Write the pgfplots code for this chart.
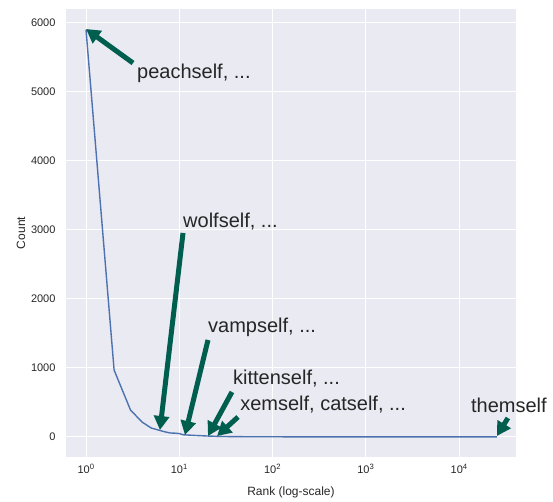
\documentclass[border=0pt]{standalone}
\usepackage{pgfplots}
\pgfplotsset{compat=1.18}
\usepackage{fontspec}
\setmainfont{Liberation Sans}
\usetikzlibrary{arrows.meta}
\definecolor{bgc}{RGB}{234,234,242}
\definecolor{tickc}{RGB}{38,38,38}
\definecolor{linec}{RGB}{76,114,176}
\definecolor{arrc}{RGB}{0,94,78}
\tikzset{
  arr/.style={draw=arrc, line width=5bp, -{Triangle[length=14bp,width=15bp]}},
  ann/.style={anchor=west, font=\fontsize{20bp}{24bp}\selectfont, text=tickc, inner sep=0pt},
}
\begin{document}
\begin{tikzpicture}
\begin{axis}[
  name=ax,
  scale only axis, width=450bp, height=448bp,
  xmode=log, xmin=0.61, xmax=40700, ymin=-290, ymax=6203,
  axis background/.style={fill=bgc},
  axis line style={draw=none},
  major tick length=0pt, minor tick length=0pt,
  xmajorgrids, ymajorgrids,
  major grid style={white, line width=1bp},
  xtick={1,10,100,1000,10000},
  xticklabels={10\textsuperscript{0},10\textsuperscript{1},10\textsuperscript{2},10\textsuperscript{3},10\textsuperscript{4}},
  ytick={0,1000,2000,3000,4000,5000,6000},
  /pgf/number format/assume math mode=true,
  yticklabel style={/pgf/number format/1000 sep={}, xshift=-7bp},
  xticklabel style={yshift=-4bp},
  tick label style={font=\fontsize{11bp}{13bp}\selectfont, text=tickc},
  label style={font=\fontsize{12bp}{14bp}\selectfont, text=tickc},
  xlabel={Rank (log-scale)}, ylabel={Count},
  xlabel style={yshift=-6bp},
  ylabel style={at={(axis description cs:-0.1,0.5)}, anchor=center},
  clip=false,
]
\addplot[linec, line width=1.4bp] coordinates {
(1,5900) (2,970) (3,390) (4,215) (5,130) (6,100) (7,75) (8,58) (9,55) (10,50)
(11,32) (12,29) (15,22) (20,14) (25,10) (30,7) (50,4) (100,3) (300,2) (1000,1) (25400,1)
};
\draw[arr] (axis cs:3.19,5420) -- (axis cs:1,5913);
\node[ann] at (axis cs:3.52,5275) {peachself, ...};
\draw[arr] (axis cs:10.96,2957) -- (axis cs:6.2,101);
\node[ann] at (axis cs:10.96,3116) {wolfself, ...};
\draw[arr] (axis cs:20.3,1406) -- (axis cs:11.5,29);
\node[ann] at (axis cs:20.3,1594) {vampself, ...};
\draw[arr] (axis cs:36.7,652) -- (axis cs:20.3,14);
\node[ann] at (axis cs:37.6,840) {kittenself, ...};
\draw[arr] (axis cs:42.6,290) -- (axis cs:25.4,14);
\node[ann] at (axis cs:44.8,464) {xemself, catself, ...};
\draw[arr] (axis cs:33340,275) -- (axis cs:25400,14);
\node[ann] at (axis cs:13380,464) {themself};
\end{axis}
\path ([shift={(-66bp,-40bp)}]ax.south west) rectangle ([shift={(37bp,9bp)}]ax.north east);
\end{tikzpicture}
\end{document}
